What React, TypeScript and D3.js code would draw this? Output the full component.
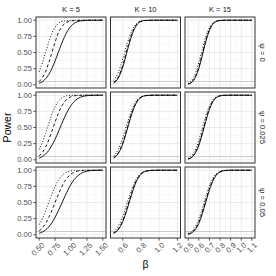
import React from 'react';
import * as d3 from 'd3';

// facet labels
const kLabels = ['K = 5', 'K = 10', 'K = 15'];
const psiLabels = ['ψ = 0', 'ψ = 0.025', 'ψ = 0.05'];

// beta grids per K column
const betaK5 = [0.5, 0.55, 0.6, 0.65, 0.7, 0.75, 0.8, 0.85, 0.9, 0.95, 1.0, 1.05, 1.1, 1.15, 1.2, 1.25, 1.3, 1.35, 1.4, 1.45, 1.5];
const betaK10 = [0.5, 0.55, 0.6, 0.65, 0.7, 0.75, 0.8, 0.85, 0.9, 0.95, 1.0, 1.05, 1.1, 1.15, 1.2];
const betaK15 = [0.5, 0.525, 0.55, 0.575, 0.6, 0.625, 0.65, 0.675, 0.7, 0.725, 0.75, 0.775, 0.8, 0.85, 0.9, 0.95, 1.0, 1.05, 1.1];

const xDomains: [number, number][] = [[0.5, 1.5], [0.5, 1.2], [0.5, 1.1]];
const xTicks = [
  [0.5, 0.75, 1.0, 1.25, 1.5],
  [0.6, 0.8, 1.0, 1.2],
  [0.5, 0.6, 0.7, 0.8, 0.9, 1.0, 1.1],
];
const xTickLabels = [
  ['0.50', '0.75', '1.00', '1.25', '1.50'],
  ['0.6', '0.8', '1.0', '1.2'],
  ['0.5', '0.6', '0.7', '0.8', '0.9', '1.0', '1.1'],
];
const xMinor = [
  [0.625, 0.875, 1.125, 1.375],
  [0.5, 0.7, 0.9, 1.1],
  [0.55, 0.65, 0.75, 0.85, 0.95, 1.05],
];
const yTicks = [0, 0.25, 0.5, 0.75, 1.0];
const yTickLabels = ['0.00', '0.25', '0.50', '0.75', '1.00'];
const yMinor = [0.125, 0.375, 0.625, 0.875];
const alphaLevel = 0.05;

// power curves, K = 5
const k5Psi0Solid = [0.023, 0.048, 0.092, 0.159, 0.252, 0.37, 0.5, 0.63, 0.748, 0.841, 0.908, 0.952, 0.977, 0.99, 0.995, 0.998, 0.999, 1, 1, 1, 1];
const k5Psi0Dashed = [0.05, 0.11, 0.2, 0.34, 0.5, 0.66, 0.8, 0.89, 0.95, 0.975, 0.988, 0.994, 0.997, 0.999, 1, 1, 1, 1, 1, 1, 1];
const k5Psi0Dotted = [0.2, 0.34, 0.5, 0.66, 0.8, 0.89, 0.95, 0.98, 0.99, 0.995, 0.998, 1, 1, 1, 1, 1, 1, 1, 1, 1, 1];
const k5Psi1Solid = [0.026, 0.05, 0.088, 0.145, 0.223, 0.318, 0.43, 0.547, 0.66, 0.76, 0.841, 0.902, 0.944, 0.97, 0.985, 0.993, 0.997, 0.999, 1, 1, 1];
const k5Psi1Dashed = [0.058, 0.113, 0.195, 0.309, 0.444, 0.584, 0.716, 0.824, 0.901, 0.95, 0.977, 0.991, 0.996, 0.998, 0.999, 1, 1, 1, 1, 1, 1];
const k5Psi1Dotted = [0.16, 0.27, 0.41, 0.56, 0.705, 0.82, 0.905, 0.955, 0.981, 0.993, 0.997, 0.999, 1, 1, 1, 1, 1, 1, 1, 1, 1];
const k5Psi2Solid = [0.023, 0.043, 0.075, 0.121, 0.187, 0.271, 0.37, 0.476, 0.587, 0.691, 0.782, 0.855, 0.908, 0.946, 0.971, 0.985, 0.993, 0.997, 0.998, 0.999, 1];
const k5Psi2Dashed = [0.059, 0.106, 0.174, 0.266, 0.378, 0.5, 0.622, 0.734, 0.826, 0.894, 0.941, 0.97, 0.986, 0.994, 0.997, 0.999, 1, 1, 1, 1, 1];
const k5Psi2Dotted = [0.159, 0.252, 0.37, 0.5, 0.63, 0.748, 0.841, 0.908, 0.952, 0.977, 0.99, 0.996, 0.998, 0.999, 1, 1, 1, 1, 1, 1, 1];

// K = 10
const k10Psi0Solid = [0.027, 0.102, 0.274, 0.528, 0.768, 0.919, 0.981, 0.997, 0.999, 1, 1, 1, 1, 1, 1];
const k10Psi0Dashed = [0.033, 0.121, 0.305, 0.564, 0.797, 0.932, 0.985, 0.997, 0.999, 1, 1, 1, 1, 1, 1];
const k10Psi0Dotted = [0.067, 0.19, 0.4, 0.646, 0.841, 0.948, 0.988, 0.997, 0.999, 1, 1, 1, 1, 1, 1];
const k10Psi1Solid = [0.026, 0.095, 0.245, 0.476, 0.713, 0.883, 0.965, 0.993, 0.998, 1, 1, 1, 1, 1, 1];
const k10Psi1Dashed = [0.03, 0.106, 0.266, 0.5, 0.734, 0.894, 0.97, 0.994, 0.999, 1, 1, 1, 1, 1, 1];
const k10Psi1Dotted = [0.056, 0.159, 0.34, 0.571, 0.777, 0.912, 0.974, 0.994, 0.999, 1, 1, 1, 1, 1, 1];
const k10Psi2Solid = [0.023, 0.079, 0.206, 0.405, 0.637, 0.826, 0.937, 0.983, 0.996, 0.999, 1, 1, 1, 1, 1];
const k10Psi2Dashed = [0.026, 0.088, 0.223, 0.43, 0.66, 0.841, 0.944, 0.985, 0.997, 0.999, 1, 1, 1, 1, 1];
const k10Psi2Dotted = [0.048, 0.133, 0.288, 0.5, 0.712, 0.867, 0.952, 0.987, 0.997, 0.999, 1, 1, 1, 1, 1];

// K = 15
const k15Psi0Solid = [0.01, 0.028, 0.067, 0.14, 0.252, 0.401, 0.566, 0.72, 0.841, 0.922, 0.966, 0.988, 0.996, 1, 1, 1, 1, 1, 1];
const k15Psi0Dashed = [0.012, 0.032, 0.076, 0.154, 0.274, 0.428, 0.592, 0.742, 0.857, 0.931, 0.971, 0.99, 0.996, 1, 1, 1, 1, 1, 1];
const k15Psi0Dotted = [0.022, 0.054, 0.113, 0.209, 0.345, 0.5, 0.655, 0.791, 0.887, 0.946, 0.978, 0.992, 0.997, 1, 1, 1, 1, 1, 1];
const k15Psi1Solid = [0.01, 0.027, 0.062, 0.125, 0.221, 0.352, 0.5, 0.648, 0.779, 0.875, 0.938, 0.973, 0.99, 0.999, 1, 1, 1, 1, 1];
const k15Psi1Dashed = [0.012, 0.031, 0.07, 0.138, 0.239, 0.374, 0.524, 0.672, 0.797, 0.888, 0.945, 0.976, 0.991, 0.999, 1, 1, 1, 1, 1];
const k15Psi1Dotted = [0.022, 0.05, 0.102, 0.184, 0.3, 0.44, 0.587, 0.726, 0.834, 0.91, 0.957, 0.982, 0.993, 0.999, 1, 1, 1, 1, 1];
const k15Psi2Solid = [0.009, 0.023, 0.05, 0.099, 0.176, 0.284, 0.417, 0.556, 0.691, 0.805, 0.887, 0.942, 0.973, 0.996, 1, 1, 1, 1, 1];
const k15Psi2Dashed = [0.011, 0.027, 0.058, 0.113, 0.195, 0.309, 0.444, 0.584, 0.716, 0.824, 0.901, 0.95, 0.977, 0.997, 1, 1, 1, 1, 1];
const k15Psi2Dotted = [0.019, 0.041, 0.082, 0.149, 0.245, 0.363, 0.5, 0.637, 0.755, 0.851, 0.918, 0.959, 0.981, 0.997, 1, 1, 1, 1, 1];

const betaGrids = [betaK5, betaK10, betaK15];
// panels[row][col] = [solid, dashed, dotted]
const panels = [
  [[k5Psi0Solid, k5Psi0Dashed, k5Psi0Dotted], [k10Psi0Solid, k10Psi0Dashed, k10Psi0Dotted], [k15Psi0Solid, k15Psi0Dashed, k15Psi0Dotted]],
  [[k5Psi1Solid, k5Psi1Dashed, k5Psi1Dotted], [k10Psi1Solid, k10Psi1Dashed, k10Psi1Dotted], [k15Psi1Solid, k15Psi1Dashed, k15Psi1Dotted]],
  [[k5Psi2Solid, k5Psi2Dashed, k5Psi2Dotted], [k10Psi2Solid, k10Psi2Dashed, k10Psi2Dotted], [k15Psi2Solid, k15Psi2Dashed, k15Psi2Dotted]],
];
const dashes = [null, '3,2.5', '1,1.8'];

const W = 276;
const H = 276;
const left0 = 36;
const top0 = 17;
const panelW = 70;
const panelH = 71;
const gapX = 4.5;
const gapY = 4;
const font = 'Liberation Sans, Arial, Helvetica, sans-serif';

export default function App() {
  const yScales = [0, 1, 2].map(r => {
    const top = top0 + r * (panelH + gapY);
    return d3.scaleLinear().domain([-0.05, 1.05]).range([top + panelH, top]);
  });
  const xScales = [0, 1, 2].map(c => {
    const left = left0 + c * (panelW + gapX);
    const [a, b] = xDomains[c];
    const e = (b - a) * 0.05;
    return d3.scaleLinear().domain([a - e, b + e]).range([left, left + panelW]);
  });
  const bottom = top0 + 3 * panelH + 2 * gapY;
  const right = left0 + 3 * panelW + 2 * gapX;

  return (
    <svg width={W} height={H} style={{ position: 'absolute', left: 0, top: 0, background: '#fff' }} fontFamily={font}>
      {[0, 1, 2].map(r =>
        [0, 1, 2].map(c => {
          const x = xScales[c];
          const y = yScales[r];
          const [x0, x1] = x.range();
          const [y1, y0] = y.range();
          const line = d3.line<number>()
            .x((_, i) => x(betaGrids[c][i]))
            .y(d => y(d))
            .curve(d3.curveMonotoneX);
          return (
            <g key={`p${r}${c}`}>
              <rect x={x0} y={y0} width={panelW} height={panelH} fill="#fff" />
              {yMinor.map(v => (
                <line key={`ym${v}`} x1={x0} x2={x1} y1={y(v)} y2={y(v)} stroke="#F2F2F2" strokeWidth={0.5} />
              ))}
              {xMinor[c].map(v => (
                <line key={`xm${v}`} x1={x(v)} x2={x(v)} y1={y0} y2={y1} stroke="#F2F2F2" strokeWidth={0.5} />
              ))}
              {yTicks.map(v => (
                <line key={`yg${v}`} x1={x0} x2={x1} y1={y(v)} y2={y(v)} stroke="#EBEBEB" strokeWidth={1} />
              ))}
              {xTicks[c].map(v => (
                <line key={`xg${v}`} x1={x(v)} x2={x(v)} y1={y0} y2={y1} stroke="#EBEBEB" strokeWidth={1} />
              ))}
              <line x1={x0} x2={x1} y1={y(alphaLevel)} y2={y(alphaLevel)} stroke="#BEBEBE" strokeWidth={0.8} />
              {panels[r][c].map((vals, k) => (
                <path key={`l${k}`} d={line(vals) || ''} fill="none" stroke="#000"
                  strokeWidth={0.9} strokeDasharray={dashes[k] || undefined} />
              ))}
              <rect x={x0} y={y0} width={panelW} height={panelH} fill="none" stroke="#333" strokeWidth={1} />
            </g>
          );
        })
      )}

      {/* column strips */}
      {kLabels.map((t, c) => (
        <text key={t} x={(xScales[c].range()[0] + xScales[c].range()[1]) / 2} y={top0 - 5}
          textAnchor="middle" fontSize={7.6} fill="#1A1A1A">{t}</text>
      ))}
      {/* row strips */}
      {psiLabels.map((t, r) => {
        const cy = (yScales[r].range()[0] + yScales[r].range()[1]) / 2;
        return (
          <text key={t} transform={`translate(${right + 5},${cy}) rotate(90)`}
            textAnchor="middle" fontSize={7.6} fill="#1A1A1A">{t}</text>
        );
      })}

      {/* y axis, left column */}
      {[0, 1, 2].map(r => (
        <g key={`ya${r}`}>
          {yTicks.map((v, i) => (
            <g key={v}>
              <line x1={left0 - 2.7} x2={left0} y1={yScales[r](v)} y2={yScales[r](v)} stroke="#333" strokeWidth={0.8} />
              <text x={left0 - 4} y={yScales[r](v)} dy="0.35em" textAnchor="end" fontSize={7.6} fill="#4D4D4D">
                {yTickLabels[i]}
              </text>
            </g>
          ))}
        </g>
      ))}

      {/* x axis, bottom row */}
      {[0, 1, 2].map(c => (
        <g key={`xa${c}`}>
          {xTicks[c].map((v, i) => (
            <g key={v}>
              <line x1={xScales[c](v)} x2={xScales[c](v)} y1={bottom} y2={bottom + 2.7} stroke="#333" strokeWidth={0.8} />
              <text transform={`translate(${xScales[c](v) + 2},${bottom + 4}) rotate(-45)`}
                textAnchor="end" dy="0.7em" fontSize={7.6} fill="#4D4D4D">
                {xTickLabels[c][i]}
              </text>
            </g>
          ))}
        </g>
      ))}

      <text transform={`translate(11,${(top0 + bottom) / 2}) rotate(-90)`} textAnchor="middle"
        fontSize={10.5} fill="#000">Power</text>
      <text x={(left0 + right) / 2} y={268} textAnchor="middle" fontSize={10.5} fill="#000">β</text>
    </svg>
  );
}
